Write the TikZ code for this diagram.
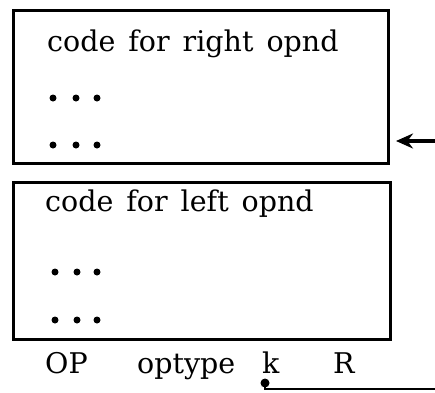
\documentclass[tikz,border=0pt]{standalone}
\usepackage{fontspec}
\setmainfont{DejaVu Serif}
\usetikzlibrary{arrows.meta,calc}
\newcommand\widefont{\fontsize{28.5}{34}\selectfont\spaceskip 13pt\relax}
\begin{document}
\begin{tikzpicture}[x=1pt,y=-1pt,
  box/.style={draw,line width=3pt,minimum width=#1,inner sep=0pt,outer sep=0pt},
  txt/.style={anchor=base west,inner sep=0pt,font={\widefont}},
  dotmark/.style={circle,fill,inner sep=0pt,minimum size=7pt}]
\useasboundingbox (0,0) rectangle (435,392);
\node[box=375pt,minimum height=153pt] (top) at (200.5,86.5) {};
\node[box=377pt,minimum height=157pt] (bot) at (201.5,260.5) {};
\node[txt] (t1) at (47,51) {code for right opnd};
\node[txt] (t2) at (45,211) {code for left opnd};
\foreach \y/\n in {98/a,145/b}{
  \node[dotmark] (\n1) at (53,\y) {};
  \node[dotmark] (\n2) at (76,\y) {};
  \node[dotmark] (\n3) at (97,\y) {};
}
\foreach \y/\n in {272/c,320/d}{
  \node[dotmark] (\n1) at (55,\y) {};
  \node[dotmark] (\n2) at (77,\y) {};
  \node[dotmark] (\n3) at (97,\y) {};
}
\node[txt] (op) at (45,373) {OP};
\node[txt] (optype) at (137,373) {optype};
\node[txt] (k) at (262,373) {k};
\node[txt] (R) at (333,373) {R};
\node[circle,fill,inner sep=0pt,minimum size=9pt] (kdot) at (265,383) {};
\coordinate (lineend) at (435,389);
\draw[line width=2.4pt] (kdot.center) |- (lineend);
\coordinate (arrtail) at (435,141);
\draw[line width=3.2pt,-{Stealth[length=17pt,width=15pt]},shorten >=8pt] (arrtail) -- (arrtail -| top.east);
\end{tikzpicture}
\end{document}
